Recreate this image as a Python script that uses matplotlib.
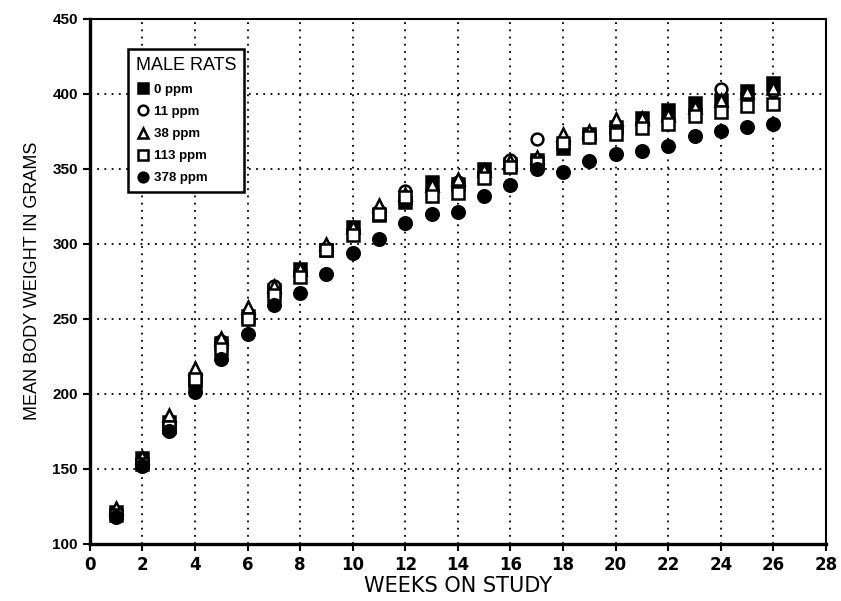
import matplotlib
matplotlib.use("Agg")
import matplotlib.pyplot as plt
from matplotlib.lines import Line2D

weeks = list(range(1, 27))

ppm_0 = [121, 157, 181, 208, 234, 252, 269, 283, 296, 311, 319, 328, 341,
         340, 350, 353, 356, 364, 373, 378, 384, 389, 394, 396, 402, 407]
ppm_11 = [121, 156, 180, 211, 235, 253, 272, 280, 297, 308, 322, 335, 336,
          341, 347, 356, 370, 368, 371, 374, 380, 383, 389, 403, 400, 402]
ppm_38 = [124, 158, 186, 217, 237, 258, 272, 283, 300, 311, 326, 333, 339,
          343, 349, 355, 358, 373, 375, 383, 384, 386, 391, 396, 401, 404]
ppm_113 = [119, 153, 178, 210, 230, 250, 266, 278, 296, 306, 320, 331, 332,
           334, 344, 351, 354, 367, 371, 373, 377, 380, 385, 388, 392, 393]
ppm_378 = [118, 152, 175, 201, 223, 240, 259, 267, 280, 294, 303, 314, 320,
           321, 332, 339, 350, 348, 355, 360, 362, 365, 372, 375, 378, 380]

series_labels = ["0 ppm", "11 ppm", "38 ppm", "113 ppm", "378 ppm"]
x_ticks = list(range(0, 29, 2))
y_ticks = list(range(100, 451, 50))

styles = [
    dict(marker="s", mfc="black", mec="black"),
    dict(marker="o", mfc="white", mec="black"),
    dict(marker="^", mfc="white", mec="black"),
    dict(marker="s", mfc="white", mec="black"),
    dict(marker="o", mfc="black", mec="black"),
]
sizes = [8, 8.5, 9, 8, 9]

fig = plt.figure(figsize=(8.41, 6.01), dpi=100)
ax = fig.add_axes([0.1067, 0.095, 0.8755, 0.874])

ax.set_xlim(0, 28)
ax.set_ylim(100, 450)
ax.set_xticks(x_ticks)
ax.set_yticks(y_ticks)

ax.grid(True, color="black", linestyle=(0, (1, 3)), linewidth=1.3)
ax.set_axisbelow(True)

all_series = [ppm_0, ppm_11, ppm_38, ppm_113, ppm_378]
# draw the heavier doses last so the low points stay visible
order = [3, 2, 1, 0, 4]
for i in order:
    st = styles[i]
    ax.plot(weeks, all_series[i], linestyle="none", marker=st["marker"],
            markerfacecolor=st["mfc"], markeredgecolor=st["mec"],
            markersize=sizes[i], markeredgewidth=1.8, zorder=3 + i)

for side in ["left", "bottom"]:
    ax.spines[side].set_linewidth(2.4)
for side in ["top", "right"]:
    ax.spines[side].set_linewidth(1.5)

narrow = ["Liberation Sans Narrow", "DejaVu Sans"]
ax.tick_params(axis="both", direction="out", length=5, width=1.5, color="black")
for lab in ax.get_yticklabels():
    lab.set_fontfamily(["Liberation Sans", "DejaVu Sans"])
    lab.set_fontweight("bold")
    lab.set_fontsize(11)
for lab in ax.get_xticklabels():
    lab.set_fontfamily(narrow)
    lab.set_fontweight("bold")
    lab.set_fontsize(12)

ax.set_xlabel("WEEKS ON STUDY", fontsize=15, family=narrow, labelpad=2)
ax.set_ylabel("MEAN BODY WEIGHT IN GRAMS", fontsize=13,
              family=["Liberation Sans", "DejaVu Sans"], labelpad=8)

handles = []
for i in range(5):
    st = styles[i]
    handles.append(Line2D([], [], linestyle="none", marker=st["marker"],
                          markerfacecolor=st["mfc"], markeredgecolor=st["mec"],
                          markersize=7, markeredgewidth=1.8))
leg = ax.legend(handles, series_labels, title="MALE RATS", loc="upper left",
                bbox_to_anchor=(0.043, 0.955), frameon=True, fancybox=False,
                framealpha=1, edgecolor="black", handletextpad=0.4,
                labelspacing=0.75, borderpad=0.6, handlelength=1.0,
                prop={"family": ["Liberation Sans", "DejaVu Sans"], "size": 9.5,
                      "weight": "bold"})
leg.get_title().set_fontsize(13)
leg.get_title().set_fontfamily(["Liberation Sans", "DejaVu Sans"])
leg._legend_box.align = "left"
leg.get_frame().set_linewidth(1.8)
leg.set_zorder(10)

fig.savefig("out.png", dpi=100)
